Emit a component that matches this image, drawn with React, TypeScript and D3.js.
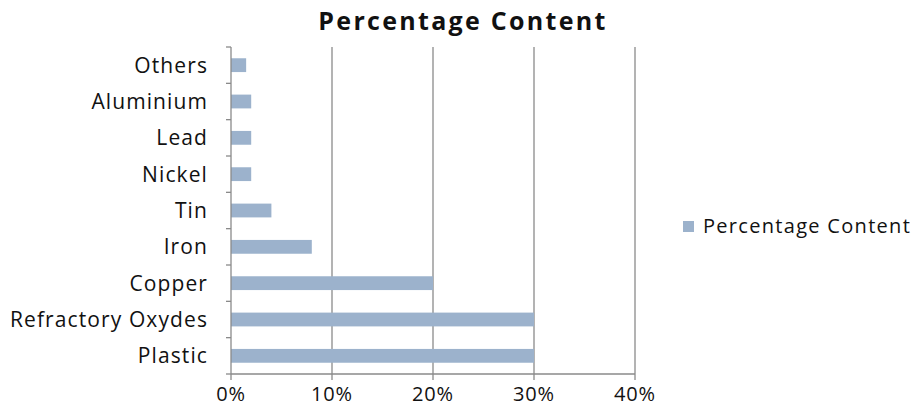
import React from "react";
import * as d3 from "d3";

const categories = ["Others", "Aluminium", "Lead", "Nickel", "Tin", "Iron", "Copper", "Refractory Oxydes", "Plastic"];
const values = [1.5, 2, 2, 2, 4, 8, 20, 30, 30];
const xTicks = [0, 10, 20, 30, 40];
const seriesName = "Percentage Content";
const title = "Percentage Content";

export default function App() {
  const W = 917, H = 410;
  const left = 231, right = 635, top = 47, bottom = 374;
  const x = d3.scaleLinear().domain([0, 40]).range([left, right]);
  const y = d3.scaleBand().domain(categories).range([top, bottom]).paddingInner(0.62).paddingOuter(0.31);
  const yb = d3.scaleBand().domain(categories).range([top, bottom]);
  const font = "'Open Sans', Lato, sans-serif";
  const barColor = "#9cb2cc";
  const grid = "#8a8a8a";
  return (
    <svg width={W} height={H} style={{ position: "absolute", left: 0, top: 0, background: "#fff" }}>
      <text x={463} y={30} textAnchor="middle" fontFamily={font} fontWeight="bold" fontSize={25} letterSpacing={2.3} fill="#111">{title}</text>
      {xTicks.slice(1).map(t => (
        <line key={t} x1={x(t)} x2={x(t)} y1={top} y2={bottom + 6} stroke={grid} strokeWidth={1.3} />
      ))}
      {categories.map((c, i) => (
        <rect key={c} x={x(0)} y={y(c)!} width={x(values[i]) - x(0)} height={y.bandwidth()} fill={barColor} />
      ))}
      <line x1={left} x2={left} y1={top} y2={bottom + 6} stroke={grid} strokeWidth={1.3} />
      <line x1={left} x2={right} y1={bottom} y2={bottom} stroke={grid} strokeWidth={1.3} />
      {categories.map(c => (
        <line key={"t" + c} x1={left - 5} x2={left} y1={yb(c)!} y2={yb(c)!} stroke={grid} strokeWidth={1.3} />
      ))}
      <line x1={left - 5} x2={left} y1={bottom} y2={bottom} stroke={grid} strokeWidth={1.3} />
      {categories.map(c => (
        <text key={"l" + c} x={208} y={yb(c)! + yb.bandwidth() / 2} dy="0.35em" textAnchor="end" fontFamily={font} fontSize={21} letterSpacing={1.1} fill="#111">{c}</text>
      ))}
      {xTicks.map(t => (
        <text key={"x" + t} x={x(t)} y={401} textAnchor="middle" fontFamily={font} fontSize={20} letterSpacing={0.8} fill="#111">{t + "%"}</text>
      ))}
      <rect x={683} y={221} width={11} height={11} fill={barColor} />
      <text x={703} y={226} dy="0.35em" fontFamily={font} fontSize={20} letterSpacing={1.3} fill="#111">{seriesName}</text>
    </svg>
  );
}
